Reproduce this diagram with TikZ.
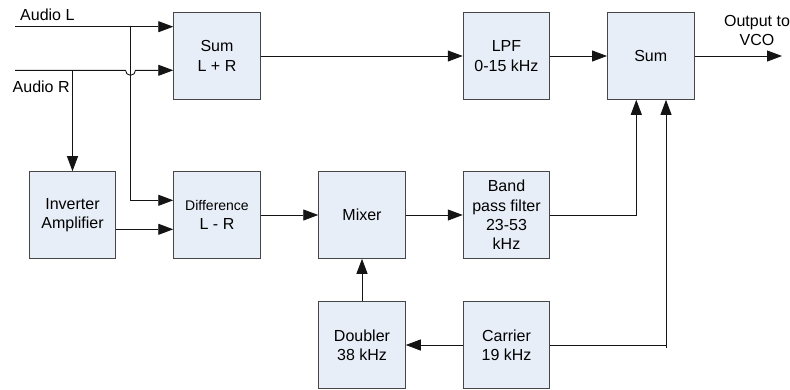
\documentclass[tikz,border=0pt]{standalone}
\usepackage{fontspec}
\setmainfont{Liberation Sans}
\usetikzlibrary{arrows.meta}
\definecolor{boxfill}{RGB}{232,238,247}
\definecolor{boxborder}{RGB}{70,70,70}
\definecolor{wire}{RGB}{20,20,20}
\begin{document}
\begin{tikzpicture}[x=1pt,y=-1pt,
  blk/.style={draw=boxborder, fill=boxfill, line width=1pt, minimum width=86.5pt, minimum height=86.6pt, inner sep=0pt, align=center, font=\fontsize{16}{19.3}\selectfont},
  lbl/.style={inner sep=0pt, font=\fontsize{16}{19}\selectfont},
  wireline/.style={draw=wire, line width=0.9pt},
  arr/.style={wireline, -{Triangle[length=15pt,width=11pt]}}]
\useasboundingbox (0,0) rectangle (790,389);
\node[blk] (sumLR) at (217,56) {Sum\\L + R};
\node[blk] (lpf) at (506.5,56) {LPF\\0-15 kHz};
\node[blk] (sumR) at (650.75,56) {Sum};
\node[blk] (inv) at (72.5,215) {Inverter\\Amplifier};
\node[blk] (diff) at (217,215) {{\fontsize{14}{19.5}\selectfont Difference}\\L - R};
\node[blk] (mixer) at (362,215) {Mixer};
\node[blk] (bpf) at (506.5,215) {Band\\pass filter\\23-53\\kHz};
\node[blk] (doubler) at (362,345) {Doubler\\38 kHz};
\node[blk] (carrier) at (506.5,345) {Carrier\\19 kHz};
\node[lbl, anchor=base west] (audioL) at (20,20) {Audio L};
\node[lbl, anchor=base west] (audioR) at (12.5,92.3) {Audio R};
\node[lbl, anchor=base, align=center, font=\fontsize{16}{19}\selectfont] (outlbl) at (757,45) {Output to\\VCO};
\coordinate (inL) at (15,26.7);
\coordinate (inR) at (15,70.3);
\coordinate (tapL) at (130.5,26.7);
\coordinate (tapR) at (72.5,70.3);
\coordinate (out) at (782,56);
\coordinate (ct) at (666,348);
% Audio L
\draw[arr] (inL) -- (inL -| sumLR.west);
\draw[arr] (tapL) -- (130.5,200.3) -- (diff.west |- 0,200.3);
% Audio R with hop
\draw[arr] (inR) -- (125.5,70.3) arc[start angle=180,end angle=0,radius=5] -- (inR -| sumLR.west);
\draw[arr] (tapR) -- (inv.north);
% inverter to difference
\draw[arr] (inv.east |- 0,229.3) -- (diff.west |- 0,229.3);
% top chain
\draw[arr] (sumLR.east) -- (lpf.west);
\draw[arr] (lpf.east) -- (sumR.west);
\draw[arr] (sumR.east) -- (out);
% middle chain
\draw[arr] (diff.east) -- (mixer.west);
\draw[arr] (mixer.east) -- (bpf.west);
\draw[arr] (bpf.east) -- (636.3,215) -- (636.3,0 |- sumR.south);
% carrier
\draw[arr] (carrier.west) -- (doubler.east);
\draw[arr] (doubler.north) -- (mixer.south);
\draw[wireline] (carrier.east) -- (carrier.east -| ct);
\draw[arr] (ct) -- (ct |- sumR.south);
\end{tikzpicture}
\end{document}
